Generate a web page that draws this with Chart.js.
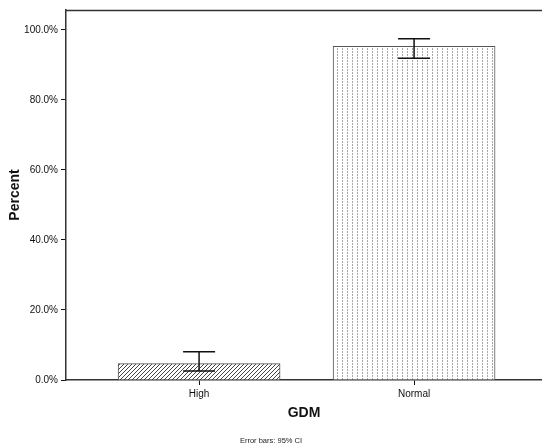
<!DOCTYPE html>
<html>
<head>
<meta charset="utf-8">
<script src="https://cdn.jsdelivr.net/npm/chart.js@4.4.1/dist/chart.umd.min.js"></script>
<style>
  html, body { margin: 0; padding: 0; background: #fff; }
  #wrap { width: 542px; height: 445px; }
</style>
</head>
<body>
<div id="wrap"><canvas id="c"></canvas></div>
<script>
// data
const categories = ["High", "Normal"];
const percents = [4.7, 95.3];
const ciLow = [2.6, 91.9];
const ciHigh = [8.1, 97.5];
const yTicks = [0, 20, 40, 60, 80, 100];

const font = "'Liberation Sans', Arial, sans-serif";

function hatchPattern() {
  const c = document.createElement("canvas");
  c.width = 4; c.height = 4;
  const g = c.getContext("2d");
  g.fillStyle = "#fff";
  g.fillRect(0, 0, 4, 4);
  g.strokeStyle = "#444";
  g.lineWidth = 1;
  g.beginPath();
  g.moveTo(0, 4); g.lineTo(4, 0);
  g.moveTo(-1, 1); g.lineTo(1, -1);
  g.moveTo(3, 5); g.lineTo(5, 3);
  g.stroke();
  return g.createPattern(c, "repeat");
}

function dotPattern() {
  const c = document.createElement("canvas");
  c.width = 5; c.height = 3;
  const g = c.getContext("2d");
  g.fillStyle = "#fff";
  g.fillRect(0, 0, 5, 3);
  g.fillStyle = "#a8a8a8";
  g.fillRect(2, 0, 1, 2);
  return g.createPattern(c, "repeat");
}

// error bars + top frame line
const extras = {
  id: "extras",
  afterDatasetsDraw(chart) {
    const { ctx, chartArea, scales } = chart;
    ctx.save();
    ctx.strokeStyle = "#333";
    ctx.lineWidth = 1.5;
    ctx.beginPath();
    ctx.moveTo(chartArea.left, chartArea.top + 0.5);
    ctx.lineTo(chartArea.right, chartArea.top + 0.5);
    ctx.stroke();

    ctx.strokeStyle = "#111";
    ctx.lineWidth = 1.5;
    categories.forEach((c, i) => {
      const x = scales.x.getPixelForValue(i);
      const y1 = scales.y.getPixelForValue(ciLow[i]);
      const y2 = scales.y.getPixelForValue(ciHigh[i]);
      ctx.beginPath();
      ctx.moveTo(x, y1); ctx.lineTo(x, y2);
      ctx.moveTo(x - 16, y1); ctx.lineTo(x + 16, y1);
      ctx.moveTo(x - 16, y2); ctx.lineTo(x + 16, y2);
      ctx.stroke();
    });
    ctx.restore();
  }
};

new Chart(document.getElementById("c"), {
  type: "bar",
  data: {
    datasets: [{
      data: categories.map((c, i) => ({ x: i, y: percents[i] })),
      backgroundColor: [hatchPattern(), dotPattern()],
      borderColor: "#555",
      borderWidth: 1,
      borderSkipped: "bottom",
      barThickness: 162
    }]
  },
  options: {
    responsive: true,
    maintainAspectRatio: false,
    animation: false,
    layout: { padding: { top: 10, right: 0, left: 0, bottom: 0 } },
    plugins: {
      legend: { display: false },
      tooltip: { enabled: false },
      title: {
        display: true,
        position: "bottom",
        text: "Error bars: 95% CI",
        color: "#222",
        font: { family: font, size: 7.5, weight: "normal" },
        padding: { top: 0, bottom: 0 }
      }
    },
    scales: {
      x: {
        type: "linear",
        offset: false,
        min: -0.619,
        max: 1.595,
        afterBuildTicks: axis => { axis.ticks = categories.map((c, i) => ({ value: i })); },
        afterFit: axis => { axis.height = 56; },
        ticks: {
          callback: v => categories[v],
          color: "#111",
          padding: 3,
          font: { family: font, size: 10 }
        },
        grid: { offset: false, drawOnChartArea: false, drawTicks: true, tickLength: 5, color: "#111" },
        border: { display: true, color: "#333", width: 1.5 },
        title: {
          display: true,
          text: "GDM",
          color: "#111",
          font: { family: font, size: 14, weight: "bold" },
          padding: { top: 0, bottom: 14 }
        }
      },
      y: {
        min: 0,
        max: 105.7,
        afterBuildTicks: axis => { axis.ticks = yTicks.map(v => ({ value: v })); },
        afterFit: axis => { axis.width = 66; },
        ticks: {
          callback: v => v.toFixed(1) + "%",
          color: "#111",
          padding: 3,
          font: { family: font, size: 10 }
        },
        grid: { drawOnChartArea: false, drawTicks: true, tickLength: 5, color: "#111" },
        border: { display: true, color: "#333", width: 1.5 },
        title: {
          display: true,
          text: "Percent",
          color: "#111",
          font: { family: font, size: 14, weight: "bold" },
          padding: { top: 7, bottom: 0 }
        }
      }
    }
  },
  plugins: [extras]
});
</script>
</body>
</html>
